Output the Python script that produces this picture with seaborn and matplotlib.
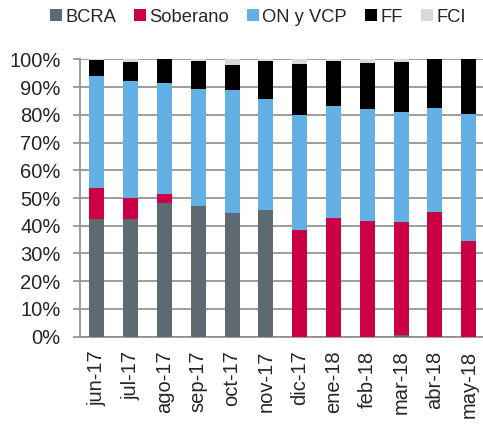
import numpy as np
import pandas as pd
import seaborn as sns
import matplotlib
matplotlib.use("Agg")
import matplotlib.pyplot as plt
from matplotlib.patches import Patch
from matplotlib.ticker import FuncFormatter

categories = ["jun-17", "jul-17", "ago-17", "sep-17", "oct-17", "nov-17",
              "dic-17", "ene-18", "feb-18", "mar-18", "abr-18", "may-18"]
bcra = [42.4, 42.4, 48.3, 47.2, 44.7, 45.7, 0, 0, 0, 0.5, 0, 0]
soberano = [11.3, 7.6, 3.3, 0, 0, 0, 38.5, 42.8, 41.7, 40.7, 44.8, 34.6]
on_vcp = [40.4, 42.3, 39.9, 42.1, 44.4, 39.9, 41.4, 40.4, 40.4, 39.8, 37.8, 45.6]
ff = [5.7, 6.9, 8.5, 10.2, 8.9, 13.8, 18.5, 16.3, 16.7, 18.2, 17.4, 19.8]
fci = [0.2, 0.8, 0, 0.5, 2.0, 0.6, 1.6, 0.5, 1.2, 0.8, 0, 0]

series_names = ["BCRA", "Soberano", "ON y VCP", "FF", "FCI"]
colors = ["#5e6a72", "#cc0044", "#63b0e4", "#000000", "#d9d9d9"]

sns.set_style("white")
plt.rcParams['font.family'] = ['Liberation Sans', 'DejaVu Sans']
FS_TICK = 14.5
FS_LEG = 13.2

df = pd.DataFrame({"cat": categories, "BCRA": bcra, "Soberano": soberano,
                   "ON y VCP": on_vcp, "FF": ff, "FCI": fci})
cum = df[series_names].cumsum(axis=1)

fig = plt.figure(figsize=(4.83, 4.25), dpi=100)
ax = fig.add_axes([80 / 483, 88.3 / 425, 405.6 / 483, 277.4 / 425])

for name, col in reversed(list(zip(series_names, colors))):
    sns.barplot(x=df["cat"], y=cum[name], color=col, width=0.44,
                saturation=1, ax=ax, zorder=3, linewidth=0)

ax.set_ylim(0, 100)
ax.set_xlim(-0.5, len(categories) - 0.5)
ax.set_yticks(np.arange(0, 101, 10))
ax.yaxis.set_major_formatter(FuncFormatter(lambda v, p: f"{int(v)}%"))
ax.grid(axis="y", color="#8c8c8c", linewidth=1.2, zorder=0)
ax.set_axisbelow(True)
ax.set_xlabel("")
ax.set_ylabel("")

for s in ["top", "right"]:
    ax.spines[s].set_visible(False)
for s in ["left", "bottom"]:
    ax.spines[s].set_color("#8c8c8c")
    ax.spines[s].set_linewidth(1.2)

ax.set_xticks(np.arange(len(categories)))
ax.set_xticklabels(categories, rotation=90, fontsize=FS_TICK)
ax.set_xticks(np.arange(-0.5, len(categories), 1), minor=True)
ax.tick_params(axis="x", which="major", length=0, pad=10)
ax.tick_params(axis="x", which="minor", length=5, width=1.2, color="#8c8c8c", direction="out")
ax.tick_params(axis="y", length=5, width=1.2, color="#8c8c8c", labelsize=FS_TICK, pad=9, left=True)

handles = [Patch(facecolor=c, edgecolor="none", label=n) for n, c in zip(series_names, colors)]
fig.legend(handles=handles, loc="center left", bbox_to_anchor=(50 / 483, 1 - 17 / 425),
           ncol=5, frameon=False, fontsize=FS_LEG, handlelength=0.65, handleheight=0.65,
           handletextpad=0.17, columnspacing=1.0, borderaxespad=0, borderpad=0)

fig.savefig("out.png", dpi=100)
